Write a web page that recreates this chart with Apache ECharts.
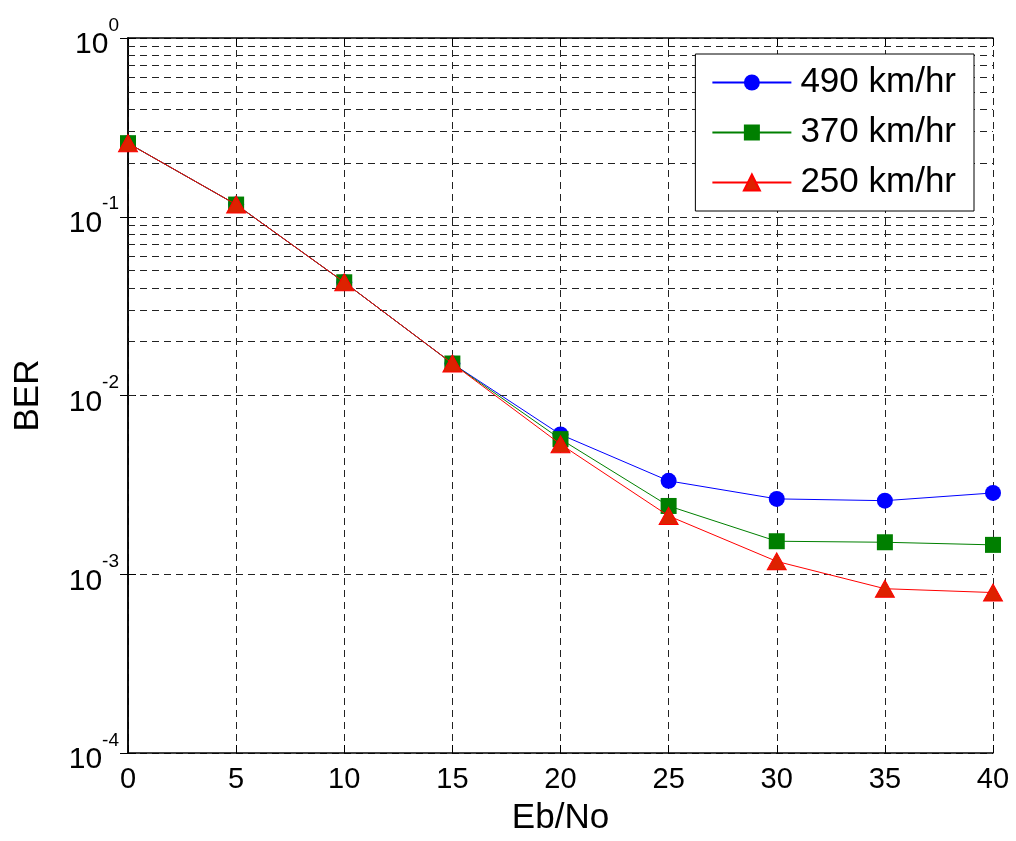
<!DOCTYPE html>
<html><head><meta charset="utf-8">
<script src="https://cdn.jsdelivr.net/npm/echarts@6/dist/echarts.min.js"></script>
<style>html,body{margin:0;padding:0;background:#fff}#c{width:1016px;height:841px}</style>
</head><body><div id="c"></div>
<script>
const ebno = [0, 5, 10, 15, 20, 25, 30, 35, 40];
const ber490 = [0.258, 0.117, 0.043, 0.0151, 0.00605, 0.00333, 0.00264, 0.00258, 0.00285];
const ber370 = [0.258, 0.117, 0.043, 0.0151, 0.0057, 0.00241, 0.00153, 0.00151, 0.00146];
const ber250 = [0.258, 0.117, 0.043, 0.0151, 0.00534, 0.00212, 0.00118, 0.00083, 0.00079];
const seriesNames = ['490 km/hr', '370 km/hr', '250 km/hr'];
const minorGrid = [];
[-4, -3, -2, -1].forEach(e => { for (let m = 2; m <= 9; m++) minorGrid.push(m * Math.pow(10, e)); });

const FONT = 'Liberation Sans, Arial, sans-serif';
const dash = [7, 5];
const chart = echarts.init(document.getElementById('c'));
function pair(x, y) { return x.map((v, i) => [v, y[i]]); }
const supFmt = v => { const e = Math.round(Math.log10(v)); return '{b|10}{s|' + e + '}'; };
const richY = {
  b: { fontSize: 30, fontFamily: FONT, color: '#000', verticalAlign: 'bottom', padding: [14, 0, 0, 0] },
  s: { fontSize: 19, fontFamily: FONT, color: '#000', verticalAlign: 'top', padding: [0, 0, 14, 0] }
};
chart.setOption({
  animation: false,
  backgroundColor: '#fff',
  grid: { left: 128, right: 23, top: 38, bottom: 83, show: false },
  legend: {
    data: seriesNames,
    orient: 'vertical',
    right: 42, top: 54,
    z: 20,
    padding: [11, 18, 11, 16],
    itemGap: 15,
    itemWidth: 79, itemHeight: 20,
    backgroundColor: '#fff',
    borderColor: '#000', borderWidth: 1,
    textStyle: { fontSize: 35, fontFamily: FONT, color: '#000', padding: [0, 0, 0, 4] }
  },
  xAxis: [{
    type: 'value', min: 0, max: 40, interval: 5,
    name: 'Eb/No', nameLocation: 'middle', nameGap: 48,
    nameTextStyle: { fontSize: 35, fontFamily: FONT, color: '#000' },
    axisLine: { lineStyle: { color: '#000', width: 1.5 } },
    axisTick: { inside: true, length: 8, lineStyle: { color: '#000' } },
    axisLabel: { fontSize: 29, fontFamily: FONT, color: '#000', margin: 12 },
    splitLine: { show: true, lineStyle: { color: '#222', type: dash, width: 1 } }
  }, {
    type: 'value', min: 0, max: 40, interval: 5, position: 'top',
    axisLine: { show: true, lineStyle: { color: '#000', width: 1.5 } },
    axisTick: { inside: true, length: 8, lineStyle: { color: '#000' } },
    axisLabel: { show: false }, splitLine: { show: false }
  }],
  yAxis: [{
    type: 'log', logBase: 10, min: 0.0001, max: 1, interval: 1,
    name: 'BER', nameLocation: 'middle', nameGap: 82, nameRotate: 90,
    nameTextStyle: { fontSize: 35, fontFamily: FONT, color: '#000' },
    axisLine: { show: true, lineStyle: { color: '#000', width: 1.5 } },
    axisTick: { inside: true, length: 8, lineStyle: { color: '#000' } },
    axisLabel: { formatter: supFmt, rich: richY, margin: 9 },
    splitLine: { show: true, lineStyle: { color: '#222', type: dash, width: 1 } },
    minorTick: { show: false }
  }, {
    type: 'log', logBase: 10, min: 0.0001, max: 1, interval: 1, position: 'right',
    axisLine: { show: true, lineStyle: { color: '#000', width: 1.5 } },
    axisTick: { inside: true, length: 8, lineStyle: { color: '#000' } },
    axisLabel: { show: false }, splitLine: { show: false }
  }],
  series: [{
    name: 'minor-grid', type: 'line', data: [], silent: true, z: 1,
    markLine: {
      silent: true, symbol: 'none', label: { show: false }, animation: false,
      lineStyle: { color: '#222', type: dash, width: 1 },
      data: minorGrid.map(v => ({ yAxis: v }))
    }
  }, {
    name: seriesNames[0], type: 'line', data: pair(ebno, ber490),
    symbol: 'circle', symbolSize: 16,
    lineStyle: { color: '#0000ff', width: 1 },
    itemStyle: { color: '#0000ff' },
    z: 3
  }, {
    name: seriesNames[1], type: 'line', data: pair(ebno, ber370),
    symbol: 'rect', symbolSize: 16,
    lineStyle: { color: '#008000', width: 1 },
    itemStyle: { color: '#007f00' },
    z: 4
  }, {
    name: seriesNames[2], type: 'line', data: pair(ebno, ber250),
    symbol: 'triangle', symbolSize: [19, 17],
    lineStyle: { color: '#ff0000', width: 1 },
    itemStyle: { color: '#dd2200', borderColor: '#ff0000', borderWidth: 1 },
    z: 5
  }]
});
</script></body></html>
